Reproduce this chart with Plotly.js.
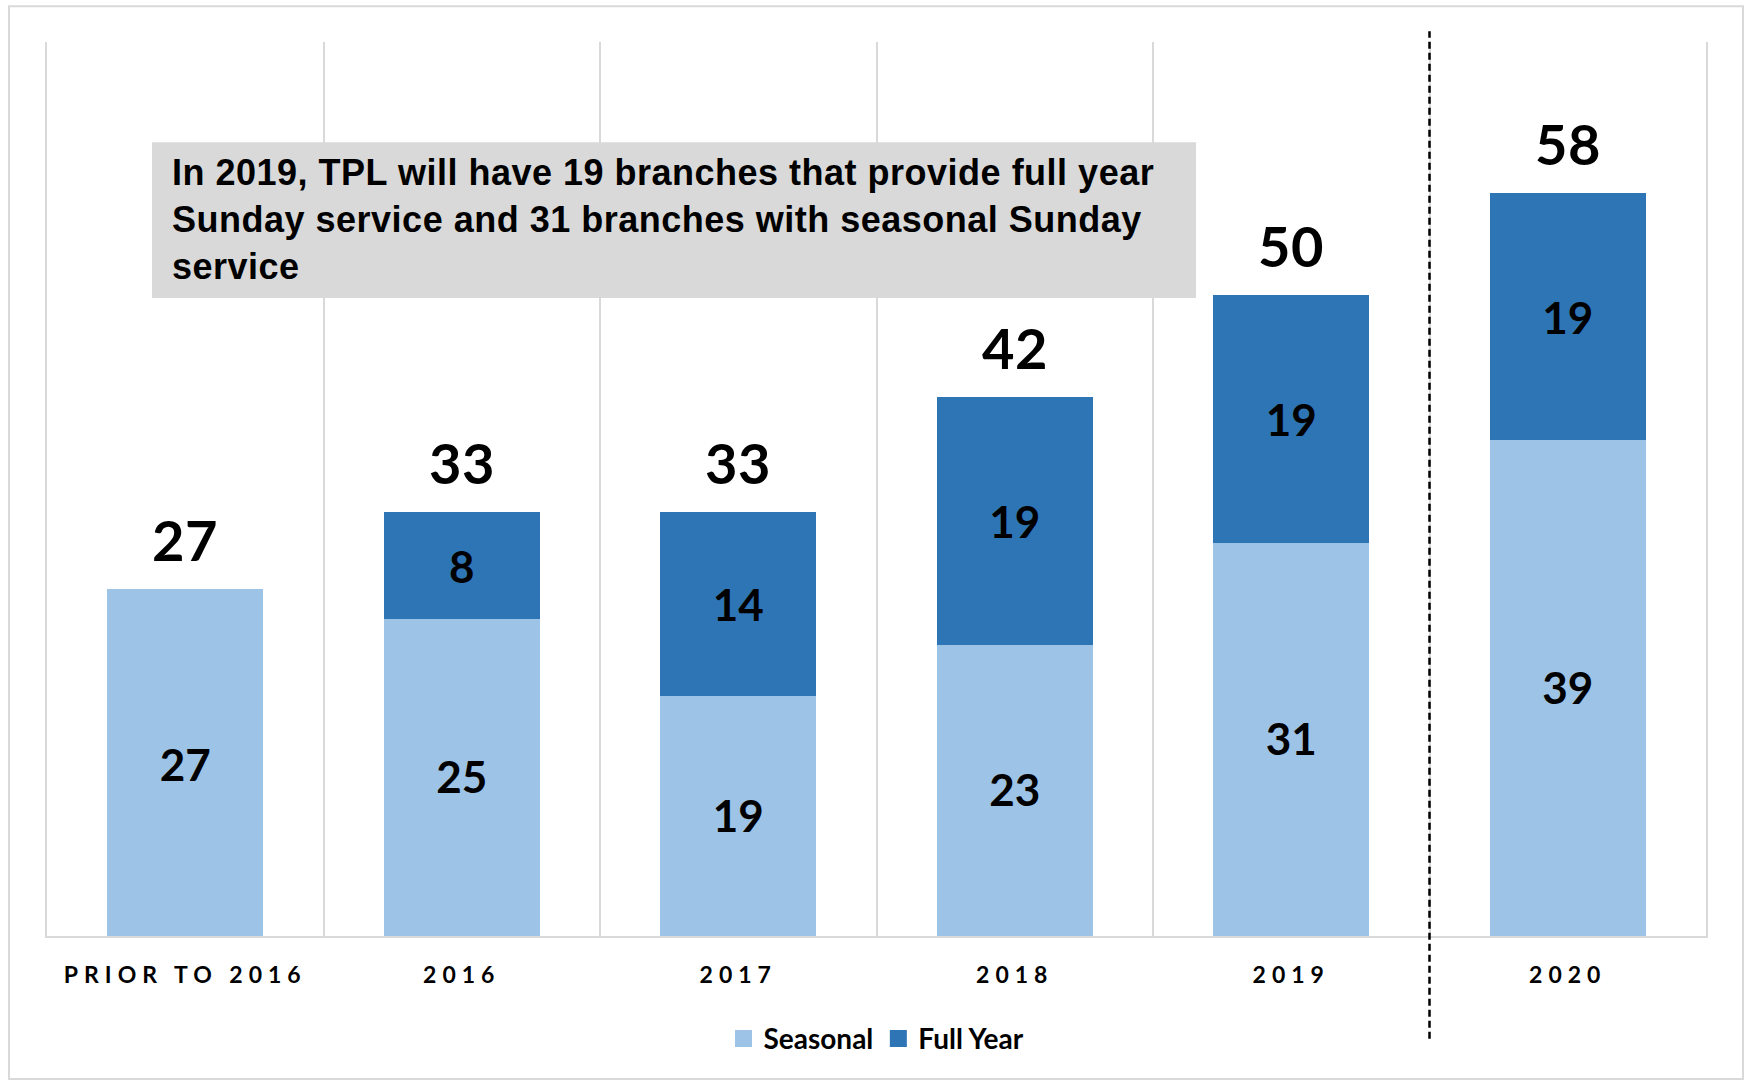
<!DOCTYPE html>
<html>
<head>
<meta charset="utf-8">
<script src="https://cdn.plot.ly/plotly-3.0.1.min.js"></script>
<style>
  html, body { margin: 0; padding: 0; background: #ffffff; }
  #chart { width: 1748px; height: 1084px; }
  .xtick text { letter-spacing: 6px; }
  .annotation-text { letter-spacing: 0.5px; }
</style>
</head>
<body>
<div id="chart"></div>
<script>
// ---- data ----
const categories = ['PRIOR TO 2016', '2016', '2017', '2018', '2019', '2020'];
const seasonal   = [27, 25, 19, 23, 31, 39];
const fullYear   = [null, 8, 14, 19, 19, 19];
const totals     = [27, 33, 33, 42, 50, 58];
const seriesNames = ['Seasonal', 'Full Year'];
const noteText = 'In 2019, TPL will have 19 branches that provide full year<br>Sunday service and 31 branches with seasonal Sunday<br>service';

// ---- style ----
const cSeasonal = '#9DC3E6';
const cFull = '#2E75B6';
const grid = '#D9D9D9';
const numFont = 'Lato, "Open Sans", sans-serif';

const traces = [
  {
    type: 'bar', name: seriesNames[0], x: categories, y: seasonal,
    marker: { color: cSeasonal, line: { color: cSeasonal, width: 5 } },
    texttemplate: '%{y}', textposition: 'inside', insidetextanchor: 'middle',
    textangle: 0, constraintext: 'none',
    textfont: { family: numFont, size: 44, color: '#000000', weight: 700 },
    hoverinfo: 'x+y+name'
  },
  {
    type: 'bar', name: seriesNames[1], x: categories, y: fullYear,
    marker: { color: cFull, line: { color: cFull, width: 5 } },
    texttemplate: '%{y}', textposition: 'inside', insidetextanchor: 'middle',
    textangle: 0, constraintext: 'none',
    textfont: { family: numFont, size: 44, color: '#000000', weight: 700 },
    hoverinfo: 'x+y+name'
  }
];

// total labels above each stack (x given as category index)
const annotations = categories.map((c, i) => ({
  x: i, y: totals[i], xref: 'x', yref: 'y',
  text: String(totals[i]), showarrow: false,
  yanchor: 'middle', yshift: 52,
  font: { family: numFont, size: 56, color: '#000000', weight: 700 }
}));

annotations.push({
  xref: 'paper', yref: 'paper', x: 0.0740, y: 0.801,
  xanchor: 'left', yanchor: 'middle',
  text: noteText, showarrow: false, align: 'left',
  font: { family: '"Liberation Sans", Arial, sans-serif', size: 36, color: '#000000', weight: 700 }
});

const layout = {
  width: 1748, height: 1084,
  margin: { l: 47, r: 42, t: 42, b: 148 },
  paper_bgcolor: '#ffffff', plot_bgcolor: '#ffffff',
  barmode: 'stack', bargap: 0.455,
  showlegend: true,
  legend: {
    orientation: 'h', x: 0.5, xanchor: 'center', y: -0.115, yanchor: 'middle',
    font: { family: numFont, size: 28, color: '#000000', weight: 700 },
    traceorder: 'normal'
  },
  xaxis: {
    type: 'category', tickson: 'boundaries', range: [-0.5, 5.5], autorange: false,
    showgrid: true, gridcolor: grid, gridwidth: 2,
    showline: true, linecolor: grid, linewidth: 2,
    ticks: '', ticklabelstandoff: 17, tickangle: 0,
    tickfont: { family: numFont, size: 23, color: '#000000', weight: 700 },
    fixedrange: true
  },
  yaxis: {
    range: [0, 70], autorange: false, showgrid: false, zeroline: false,
    showticklabels: false, ticks: '',
    showline: true, mirror: true, linecolor: grid, linewidth: 2,
    fixedrange: true
  },
  annotations: annotations,
  shapes: [
    {
      type: 'rect', xref: 'paper', yref: 'paper', x0: 0.0633, x1: 0.6926, y0: 0.7136, y1: 0.888,
      line: { width: 0 }, fillcolor: '#D9D9D9', layer: 'above'
    },
    {
      type: 'line', xref: 'x', yref: 'paper', x0: 4.5, x1: 4.5, y0: -0.115, y1: 1.012,
      line: { color: '#000000', width: 2.5, dash: '7px,4px' }, layer: 'above'
    },
    {
      type: 'rect', xref: 'paper', yref: 'paper', x0: -0.0229, x1: 1.0223, y0: -0.16, y1: 1.04,
      line: { color: grid, width: 2 }, fillcolor: 'rgba(0,0,0,0)', layer: 'below'
    }
  ]
};

Plotly.newPlot('chart', traces, layout, { displayModeBar: false, responsive: false });
</script>
</body>
</html>
